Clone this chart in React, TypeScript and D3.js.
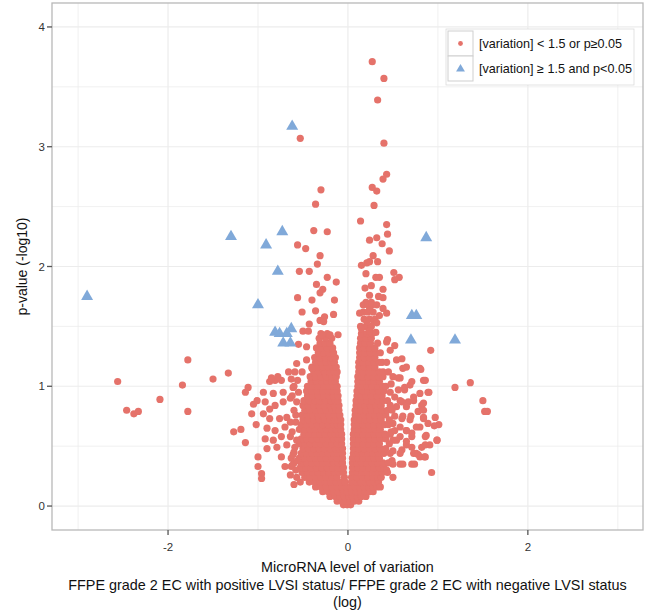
import * as d3 from "d3";

// axis breaks
const xTicks = [-2, 0, 2];
const yTicks = [0, 1, 2, 3, 4];
const xMinor = [-3, -1, 1, 3];
const yMinor = [0.5, 1.5, 2.5, 3.5];

const legendLabels = ["[variation] < 1.5 or p\u22650.05", "[variation] \u2265 1.5 and p<0.05"];
const xTitle = [
  "MicroRNA level of variation",
  "FFPE grade 2 EC with positive LVSI status/ FFPE grade 2 EC with negative LVSI status",
  "(log)",
];
const yTitle = "p-value (-log10)";

// |variation| >= 1.5 and p < 0.05  (log fold, -log10 p)
const significant: [number, number][] = [
  [-2.9, 1.75], [-1.3, 2.25], [-0.91, 2.18], [-0.73, 2.29], [-0.62, 3.17], [-0.78, 1.96],
  [-1.0, 1.68], [-0.81, 1.45], [-0.76, 1.44], [-0.68, 1.44], [-0.63, 1.48], [-0.72, 1.36],
  [-0.64, 1.36], [0.71, 1.59], [0.76, 1.59], [0.7, 1.385], [0.87, 2.24], [1.19, 1.385],
];

// scattered non-significant points, upper part and tails
const sparse: [number, number][] = [
  // right top
  [0.27, 3.71], [0.4, 3.57], [0.33, 3.39], [0.4, 3.03], [0.43, 2.77], [0.39, 2.73], [0.27, 2.66],
  [0.32, 2.63], [0.29, 2.51], [0.14, 2.38], [0.43, 2.35], [0.44, 2.27], [0.32, 2.24], [0.24, 2.22],
  [0.38, 2.19], [0.46, 2.13], [0.28, 2.09], [0.33, 2.04], [0.24, 2.04], [0.21, 2.03], [0.15, 2.01],
  [0.2, 1.94], [0.31, 1.91], [0.35, 1.91], [0.51, 1.95], [0.57, 1.91], [0.52, 1.89], [0.19, 1.82],
  [0.26, 1.84], [0.39, 1.81], [0.24, 1.76], [0.39, 1.74], [0.34, 1.75], [0.17, 1.68], [0.22, 1.68],
  [0.27, 1.68], [0.32, 1.68], [0.13, 1.61], [0.24, 1.64], [0.35, 1.59], [0.43, 1.61], [0.39, 1.65],
  [0.21, 1.54], [0.29, 1.54], [0.32, 1.53], [0.15, 1.48], [0.24, 1.46], [0.31, 1.45], [0.44, 1.39],
  [0.43, 1.37], [0.52, 1.34], [0.47, 1.3], [0.6, 1.23], [0.54, 1.22], [0.43, 1.2], [0.5, 1.08],
  [0.56, 1.07], [0.63, 0.97], [0.69, 1.01], [0.61, 1.15], [0.65, 1.16],
  // left top
  [-0.53, 3.07], [-0.3, 2.64], [-0.36, 2.52], [-0.38, 2.3], [-0.23, 2.29], [-0.56, 2.18],
  [-0.47, 2.15], [-0.31, 2.09], [-0.34, 2.02], [-0.54, 1.96], [-0.43, 1.96], [-0.23, 1.91],
  [-0.13, 1.87], [-0.35, 1.85], [-0.28, 1.81], [-0.31, 1.78], [-0.56, 1.74], [-0.4, 1.72],
  [-0.15, 1.72], [-0.36, 1.63], [-0.51, 1.62], [-0.16, 1.6], [-0.26, 1.58], [-0.31, 1.55],
  [-0.27, 1.54], [-0.43, 1.52], [-0.5, 1.46], [-0.44, 1.46], [-0.29, 1.43], [-0.2, 1.43],
  [-0.11, 1.43], [-0.55, 1.35], [-0.46, 1.33], [-0.57, 1.19], [-0.51, 1.12], [-0.46, 1.22],
  [-0.4, 1.15], [-0.59, 1.12], [-0.66, 1.12],
  // far left
  [-2.56, 1.04], [-2.46, 0.8], [-2.38, 0.77], [-2.33, 0.79], [-2.09, 0.89], [-1.78, 1.22],
  [-1.84, 1.01], [-1.78, 0.79], [-1.5, 1.06], [-1.33, 1.11], [-1.11, 0.99], [-1.14, 0.95],
  [-1.05, 0.85], [-1.01, 0.88], [-1.07, 0.77], [-1.02, 0.68], [-1.19, 0.64], [-1.27, 0.62],
  [-1.14, 0.53], [-1.0, 0.41], [-1.0, 0.33], [-0.96, 0.27], [-0.96, 0.23],
  // left halo
  [-0.94, 0.95], [-0.87, 1.04], [-0.81, 1.05], [-0.74, 1.05], [-0.83, 0.94], [-0.72, 0.95],
  [-0.63, 1.06], [-0.61, 0.99], [-0.92, 0.87], [-0.87, 0.81], [-0.94, 0.77], [-0.81, 0.84],
  [-0.72, 0.87], [-0.64, 0.9], [-0.57, 0.87], [-0.87, 0.73], [-0.76, 0.73], [-0.68, 0.74],
  [-0.9, 0.65], [-0.81, 0.63], [-0.7, 0.66], [-0.64, 0.7], [-0.92, 0.56], [-0.83, 0.55],
  [-0.74, 0.58], [-0.64, 0.58], [-0.9, 0.48], [-0.79, 0.49], [-0.68, 0.51], [-0.59, 0.49],
  [-0.74, 0.41], [-0.63, 0.4], [-0.7, 0.33], [-0.63, 0.33], [-0.64, 0.26], [-0.57, 0.24],
  [-0.6, 0.8], [-0.58, 0.7], [-0.62, 0.62], [-0.57, 0.55], [-0.6, 0.45], [-0.56, 0.38],
  [-0.62, 0.34], [-0.58, 0.3], [-0.55, 0.95], [-0.6, 1.0], [-0.56, 1.05], [-0.62, 0.92],
  [-0.78, 1.08], [-0.85, 1.07], [-0.61, 0.43], [-0.6, 0.18], [-0.53, 0.2],
  // right halo
  [0.92, 1.3], [0.8, 1.15], [0.71, 1.04], [0.84, 1.05], [0.89, 0.95], [0.8, 0.94], [0.81, 1.14],
  [0.86, 1.05], [0.9, 0.95], [0.58, 1.07], [0.63, 0.99], [0.56, 0.97], [0.73, 0.91], [0.67, 0.87],
  [0.6, 0.87], [0.52, 0.91], [0.47, 0.84], [0.82, 0.84], [0.78, 0.79], [0.84, 0.73], [0.89, 0.69],
  [0.8, 0.66], [0.69, 0.72], [0.6, 0.73], [0.5, 0.69], [0.65, 0.63], [0.58, 0.58], [0.71, 0.58],
  [0.86, 0.58], [0.99, 0.55], [0.91, 0.51], [0.82, 0.49], [0.65, 0.51], [0.5, 0.55], [0.6, 0.47],
  [0.73, 0.44], [0.8, 0.41], [0.71, 0.35], [0.86, 0.41], [0.93, 0.28], [0.58, 0.35], [0.49, 0.38],
  [0.43, 0.3], [0.5, 0.24], [0.36, 0.16], [0.73, 0.88], [0.65, 0.83], [0.58, 0.88], [0.54, 0.83],
  [0.52, 0.75], [0.61, 0.75], [0.7, 0.75], [0.76, 0.66], [0.71, 0.61], [0.65, 0.63], [0.58, 0.66],
  [0.54, 0.55], [0.65, 0.54], [0.71, 0.49], [0.58, 0.44], [0.76, 0.44], [0.61, 0.35], [0.5, 0.35],
  [0.47, 0.95], [0.49, 0.8], [0.46, 0.72], [0.48, 0.62], [0.46, 0.52], [0.47, 0.44], [0.45, 0.36],
  [0.44, 0.28], [0.48, 1.02], [0.45, 1.12], [0.5, 0.46], [0.52, 0.63],
  // far right
  [1.19, 0.99], [1.36, 1.03], [1.5, 0.88], [1.52, 0.79], [1.55, 0.79], [0.97, 0.74], [1.01, 0.68],
  [0.96, 0.67], [0.99, 0.55], [0.86, 0.51], [0.85, 0.41], [0.74, 0.35], [0.84, 0.86], [0.84, 0.8],
  [0.84, 0.74], [0.87, 0.59], [0.78, 0.43],
];

// dense core of the volcano, read row by row: [p, variations]
const coreRows: [number, number[]][] = [
  [0.01, [-0.05, -0.01, 0.03]],
  [0.04, [-0.12, -0.07, -0.02, 0.02, 0.07, 0.12]],
  [0.08, [-0.2, -0.14, -0.09, -0.04, 0.01, 0.05, 0.1, 0.15, 0.2]],
  [0.12, [-0.28, -0.22, -0.16, -0.11, -0.05, -0.01, 0.04, 0.09, 0.14, 0.19, 0.24, 0.28]],
  [0.16, [-0.36, -0.3, -0.24, -0.18, -0.12, -0.07, -0.02, 0.03, 0.08, 0.13, 0.18, 0.23, 0.28, 0.32]],
  [0.2, [-0.43, -0.37, -0.31, -0.25, -0.19, -0.13, -0.08, -0.03, 0.04, 0.09, 0.14, 0.19, 0.24, 0.29, 0.34]],
  [0.24, [-0.48, -0.42, -0.36, -0.3, -0.24, -0.18, -0.12, -0.04, 0.04, 0.1, 0.16, 0.22, 0.28, 0.33, 0.37]],
  [0.28, [-0.51, -0.45, -0.39, -0.33, -0.27, -0.21, -0.15, -0.1, -0.05, 0.05, 0.1, 0.16, 0.22, 0.28, 0.34, 0.38]],
  [0.32, [-0.53, -0.47, -0.41, -0.35, -0.29, -0.23, -0.17, -0.11, -0.05, 0.05, 0.11, 0.17, 0.23, 0.29, 0.35, 0.4]],
  [0.36, [-0.6, -0.52, -0.46, -0.4, -0.34, -0.28, -0.22, -0.16, -0.11, -0.06, 0.05, 0.1, 0.15, 0.21, 0.27, 0.33, 0.39]],
  [0.4, [-0.54, -0.48, -0.42, -0.36, -0.3, -0.24, -0.18, -0.12, -0.06, 0.05, 0.11, 0.17, 0.23, 0.29, 0.35]],
  [0.44, [-0.52, -0.46, -0.4, -0.34, -0.28, -0.22, -0.16, -0.11, -0.06, 0.06, 0.11, 0.16, 0.22, 0.28, 0.34, 0.4]],
  [0.48, [-0.5, -0.44, -0.38, -0.32, -0.26, -0.2, -0.14, -0.1, -0.06, 0.06, 0.12, 0.18, 0.24, 0.3, 0.36, 0.42]],
  [0.52, [-0.54, -0.48, -0.42, -0.36, -0.3, -0.24, -0.18, -0.12, -0.07, 0.06, 0.11, 0.17, 0.23, 0.29, 0.35]],
  [0.56, [-0.52, -0.46, -0.4, -0.34, -0.28, -0.22, -0.16, -0.11, -0.07, 0.06, 0.12, 0.18, 0.24, 0.3, 0.36, 0.42]],
  [0.6, [-0.49, -0.43, -0.37, -0.31, -0.25, -0.19, -0.14, -0.1, -0.07, 0.06, 0.11, 0.17, 0.23, 0.29, 0.35, 0.41, 0.47]],
  [0.64, [-0.54, -0.48, -0.42, -0.36, -0.3, -0.24, -0.18, -0.13, -0.08, 0.07, 0.12, 0.18, 0.24, 0.3, 0.36]],
  [0.68, [-0.52, -0.46, -0.4, -0.34, -0.28, -0.22, -0.16, -0.12, -0.08, 0.07, 0.12, 0.17, 0.23, 0.29, 0.35, 0.41, 0.45]],
  [0.72, [-0.5, -0.44, -0.38, -0.32, -0.26, -0.2, -0.15, -0.11, -0.08, 0.07, 0.13, 0.19, 0.25, 0.31, 0.37]],
  [0.76, [-0.58, -0.51, -0.45, -0.39, -0.33, -0.27, -0.21, -0.15, -0.09, 0.08, 0.13, 0.18, 0.24, 0.3, 0.36, 0.42]],
  [0.8, [-0.48, -0.42, -0.36, -0.3, -0.24, -0.18, -0.13, -0.1, 0.08, 0.14, 0.2, 0.26, 0.32, 0.38, 0.44]],
  [0.84, [-0.5, -0.44, -0.38, -0.32, -0.26, -0.2, -0.15, -0.1, 0.09, 0.14, 0.19, 0.25, 0.31, 0.37]],
  [0.88, [-0.49, -0.43, -0.37, -0.31, -0.25, -0.19, -0.14, -0.11, 0.09, 0.15, 0.21, 0.27, 0.33, 0.39, 0.44]],
  [0.92, [-0.45, -0.39, -0.33, -0.27, -0.21, -0.16, -0.11, 0.1, 0.15, 0.2, 0.26, 0.32, 0.38]],
  [0.96, [-0.46, -0.4, -0.34, -0.28, -0.22, -0.17, -0.12, 0.1, 0.16, 0.22, 0.28, 0.34, 0.4]],
  [1.0, [-0.45, -0.39, -0.33, -0.27, -0.21, -0.16, -0.12, 0.11, 0.16, 0.21, 0.27, 0.33, 0.39, 0.42]],
  [1.04, [-0.41, -0.35, -0.29, -0.23, -0.18, -0.14, 0.11, 0.17, 0.23, 0.29, 0.35]],
  [1.08, [-0.42, -0.36, -0.3, -0.24, -0.18, -0.13, 0.11, 0.16, 0.22, 0.28, 0.34, 0.39]],
  [1.12, [-0.38, -0.32, -0.26, -0.2, -0.15, -0.12, 0.12, 0.17, 0.23, 0.29, 0.35, 0.39]],
  [1.16, [-0.4, -0.34, -0.28, -0.22, -0.17, -0.13, 0.12, 0.18, 0.24, 0.3]],
  [1.2, [-0.36, -0.3, -0.24, -0.19, -0.15, 0.12, 0.17, 0.23, 0.29, 0.35, 0.38]],
  [1.24, [-0.37, -0.31, -0.25, -0.19, -0.14, 0.13, 0.18, 0.24, 0.3]],
  [1.28, [-0.33, -0.27, -0.21, -0.16, 0.13, 0.19, 0.25, 0.31, 0.36]],
  [1.32, [-0.35, -0.29, -0.23, -0.17, 0.13, 0.18, 0.24, 0.3]],
  [1.36, [-0.31, -0.25, -0.2, 0.14, 0.19, 0.25, 0.33]],
  [1.4, [-0.32, -0.25, -0.18, 0.14, 0.2, 0.26]],
  [1.44, [-0.3, -0.23, 0.15, 0.21, 0.27]],
  [1.5, [0.14, 0.2, 0.26]],
  [1.56, [0.18, 0.24, 0.3]],
  [1.62, [0.17, 0.22, 0.28]],
  [1.7, [0.2, 0.26]],
];

const RED = "#E5726A";
const BLUE = "#80A9D9";
const GRID = "#ececec";
const FONT = "'Liberation Sans', Arial, sans-serif";

export default function App() {
  const width = 646;
  const height = 610;
  const left = 52;
  const right = 643;
  const top = 3;
  const bottom = 530;

  const x = d3.scaleLinear().domain([-3.29, 3.28]).range([left, right]);
  const y = d3.scaleLinear().domain([-0.2, 4.2]).range([bottom, top]);

  const red: [number, number][] = [
    ...coreRows.flatMap(([p, xs]) => xs.map((v) => [v, p] as [number, number])),
    ...sparse,
  ];
  const tri = d3.symbol(d3.symbolTriangle, 62)() as string;
  const triKey = d3.symbol(d3.symbolTriangle, 34)() as string;

  return (
    <svg
      width={width}
      height={height}
      style={{ position: "absolute", left: 0, top: 0, background: "#fff" }}
      fontFamily={FONT}
    >
      <rect x={left} y={top} width={right - left} height={bottom - top} fill="#fff" />
      {/* grid */}
      <g stroke={GRID}>
        {xMinor.map((v) => (
          <line key={"xm" + v} x1={x(v)} x2={x(v)} y1={top} y2={bottom} strokeWidth={0.8} />
        ))}
        {yMinor.map((v) => (
          <line key={"ym" + v} y1={y(v)} y2={y(v)} x1={left} x2={right} strokeWidth={0.8} />
        ))}
        {xTicks.map((v) => (
          <line key={"xM" + v} x1={x(v)} x2={x(v)} y1={top} y2={bottom} strokeWidth={1.2} />
        ))}
        {yTicks.map((v) => (
          <line key={"yM" + v} y1={y(v)} y2={y(v)} x1={left} x2={right} strokeWidth={1.2} />
        ))}
      </g>

      {/* points */}
      <g fill={RED}>
        {red.map(([a, b], i) => (
          <circle key={i} cx={x(a)} cy={y(b)} r={3.6} />
        ))}
      </g>
      <g fill={BLUE}>
        {significant.map(([a, b], i) => (
          <path key={i} d={tri} transform={`translate(${x(a)},${y(b)})`} />
        ))}
      </g>

      <rect
        x={left}
        y={top}
        width={right - left}
        height={bottom - top}
        fill="none"
        stroke="#b8b8b8"
        strokeWidth={1.3}
      />

      {/* axes */}
      <g stroke="#555" strokeWidth={1.3}>
        {yTicks.map((v) => (
          <line key={"yt" + v} x1={left - 5} x2={left} y1={y(v)} y2={y(v)} />
        ))}
        {xTicks.map((v) => (
          <line key={"xt" + v} y1={bottom} y2={bottom + 5} x1={x(v)} x2={x(v)} />
        ))}
      </g>
      <g fontSize={11.5} fill="#333">
        {yTicks.map((v) => (
          <text key={"yl" + v} x={left - 7} y={y(v)} dy="0.35em" textAnchor="end">
            {v}
          </text>
        ))}
        {xTicks.map((v) => (
          <text key={"xl" + v} x={x(v)} y={bottom + 17} dy="0.35em" textAnchor="middle">
            {v}
          </text>
        ))}
      </g>
      <text
        transform={`translate(22,${(top + bottom) / 2}) rotate(-90)`}
        textAnchor="middle"
        dy="0.35em"
        fontSize={14}
        fill="#111"
      >
        {yTitle}
      </text>
      <g fontSize={14.4} fill="#111" textAnchor="middle">
        {xTitle.map((t, i) => (
          <text key={i} x={(left + right) / 2} y={567 + i * 17.5} dy="0.35em">
            {t}
          </text>
        ))}
      </g>

      {/* legend */}
      <g>
        <rect x={446} y={29} width={188} height={56} fill="#fff" stroke="#dcdcdc" strokeWidth={0.8} />
        {legendLabels.map((t, i) => (
          <g key={i} transform={`translate(448,${31 + i * 25})`}>
            <rect width={25} height={25} fill="#fff" stroke="#cfcfcf" strokeWidth={1} />
            {i === 0 ? (
              <circle cx={12.5} cy={12.5} r={2.4} fill={RED} />
            ) : (
              <path d={triKey} transform="translate(12.5,13)" fill={BLUE} />
            )}
            <text x={31} y={12.5} dy="0.35em" fontSize={12.6} fill="#111">
              {t}
            </text>
          </g>
        ))}
      </g>
    </svg>
  );
}
